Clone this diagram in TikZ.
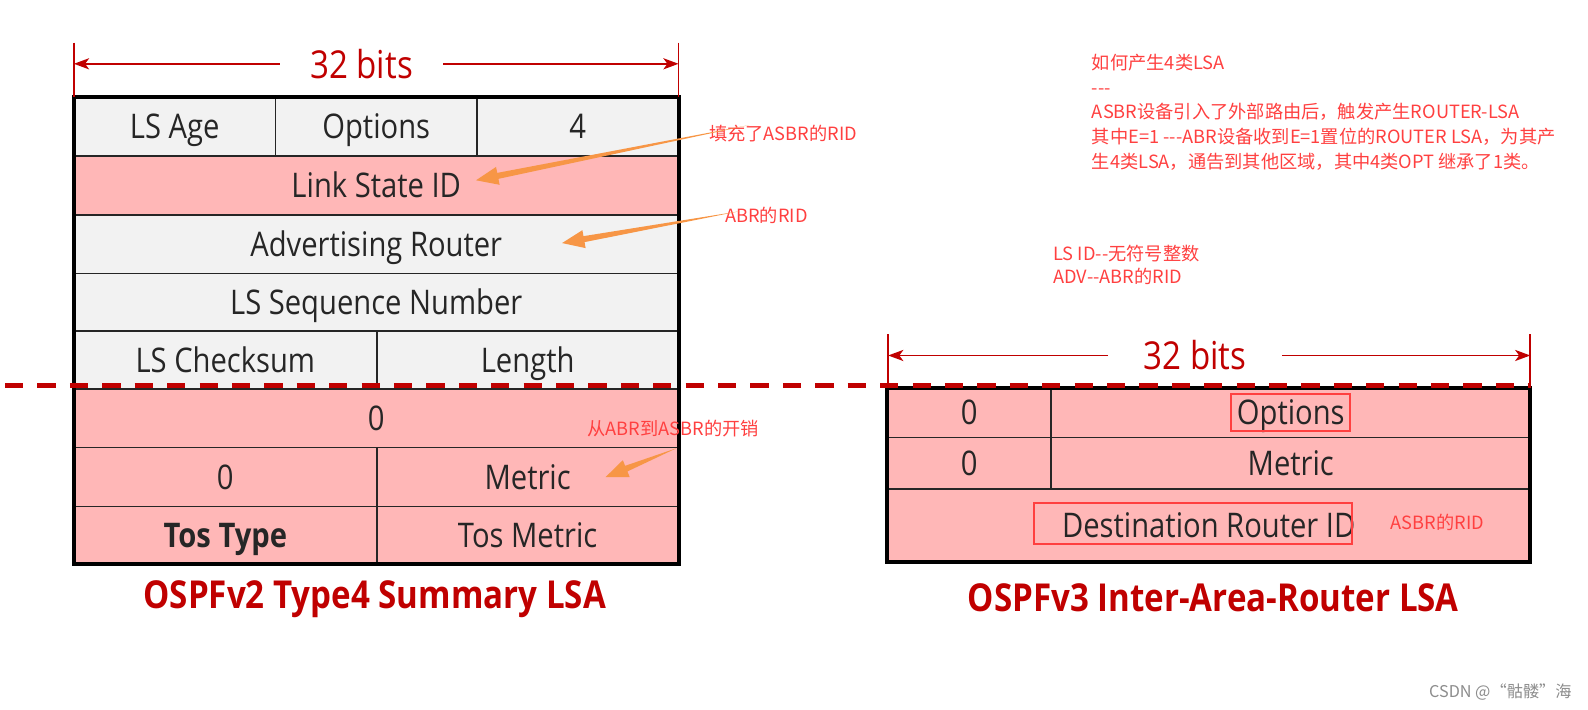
\documentclass[tikz,border=0pt]{standalone}
\usepackage{fontspec}
\setmainfont{Open Sans}
\newfontfamily\cellfont[FakeStretch=0.86]{Open Sans}
\newfontfamily\cjkfont{Noto Sans CJK SC}
\definecolor{RougeTitre}{HTML}{C00000}
\definecolor{RougeNote}{HTML}{FF4040}
\definecolor{GrisCase}{HTML}{F2F2F2}
\definecolor{RoseCase}{HTML}{FFB7B7}
\definecolor{OrangeFleche}{HTML}{F79646}
\usetikzlibrary{arrows.meta}
\usetikzlibrary{calc}
\usetikzlibrary{positioning}
\tikzset{
	cell/.style={draw=black!85, line width=1.6pt, inner sep=0pt, text=black!85,
		text height=24pt, text depth=0pt, font=\cellfont\fontsize{33.5}{36}\selectfont},
	graycell/.style={cell, fill=GrisCase},
	pinkcell/.style={cell, fill=RoseCase},
	note/.style={text=RougeNote, inner sep=0pt, font=\cjkfont\fontsize{18}{20}\selectfont},
	dimtick/.style={RougeTitre, line width=1.6pt},
	dimarrow/.style={RougeTitre, line width=1.6pt, -{Stealth[length=15pt,width=11pt,inset=4pt]}},
	bits/.style={text=RougeTitre, inner xsep=30pt, inner ysep=0pt,
		font=\cellfont\fontsize{38}{40}\selectfont},
	lsatitle/.style={text=RougeTitre, inner sep=0pt, font=\cellfont\bfseries\fontsize{38}{40}\selectfont},
	hlbox/.style={draw=RougeNote, line width=2pt},
	sepline/.style={RougeTitre, line width=5pt, dash pattern=on 18pt off 14pt},
	annarrow/.style={fill=OrangeFleche}
}
% fleche effilee: de #1 (fin) vers #2 (pointe)
\newcommand\fleche[2]{%
	\path (#2) coordinate (tp) ($(#2)!22pt!(#1)$) coordinate (hb);
	\fill[annarrow] (#1) -- ($(hb)!3pt!90:(tp)$) -- ($(hb)!9pt!90:(tp)$) -- (tp)
		-- ($(hb)!9pt!-90:(tp)$) -- ($(hb)!3pt!-90:(tp)$) -- cycle;}
\begin{document}
\begin{tikzpicture}[x=1pt, y=-1pt]
	\useasboundingbox (0,0) rectangle (1568,701);
	% OSPFv2
	\node[graycell, minimum width=199pt, minimum height=58pt] (lsage) at (172.5,125) {LS Age};
	\node[graycell, minimum width=199pt, minimum height=58pt] (optv2) at (371.5,125) {Options};
	\node[graycell, minimum width=199pt, minimum height=58pt] (typev2) at (570.5,125) {4};
	\node[pinkcell, minimum width=597pt, minimum height=58pt] (lsid) at (371.5,183) {Link State ID};
	\node[graycell, minimum width=597pt, minimum height=58pt] (adv) at (371.5,241) {Advertising Router};
	\node[graycell, minimum width=597pt, minimum height=57pt] (seq) at (371.5,298.5) {LS Sequence Number};
	\node[graycell, minimum width=299pt, minimum height=57pt] (cksum) at (222.5,355.5) {LS Checksum};
	\node[graycell, minimum width=298pt, minimum height=57pt] (len) at (521,355.5) {Length};
	\node[pinkcell, minimum width=597pt, minimum height=58pt] (zerov2) at (371.5,413) {0};
	\node[pinkcell, minimum width=299pt, minimum height=58pt] (zerob) at (222.5,471) {0};
	\node[pinkcell, minimum width=298pt, minimum height=58pt] (metv2) at (521,471) {Metric};
	\node[pinkcell, minimum width=299pt, minimum height=57pt] (tostype) at (222.5,528.5) {\bfseries Tos Type};
	\node[pinkcell, minimum width=298pt, minimum height=57pt] (tosmet) at (521,528.5) {Tos Metric};
	\draw[line width=4pt] (73,96) rectangle (670,557);
	\node[lsatitle] (titlev2) at (370,592) {OSPFv2 Type4 Summary LSA};
	% 32 bits gauche
	\coordinate (tickla) at (73,42);
	\coordinate (ticklb) at (670,42);
	\draw[dimtick] (tickla) -- (73,96);
	\draw[dimtick] (ticklb) -- (670,96);
	\node[bits] (bitsv2) at (357,63) {32 bits};
	\draw[dimarrow] (bitsv2.west) -- (bitsv2.west -| tickla);
	\draw[dimarrow] (bitsv2.east) -- (bitsv2.east -| ticklb);
	% OSPFv3
	\node[pinkcell, minimum width=162pt, minimum height=49pt] (zerov3) at (957,407.5) {0};
	\node[pinkcell, minimum width=473pt, minimum height=49pt] (optv3) at (1274.5,407.5) {Options};
	\node[pinkcell, minimum width=162pt, minimum height=51pt] (zeroc) at (957,457.5) {0};
	\node[pinkcell, minimum width=473pt, minimum height=51pt] (metv3) at (1274.5,457.5) {Metric};
	\node[pinkcell, minimum width=635pt, minimum height=72pt] (dstid) at (1193.5,519) {Destination Router ID};
	\draw[line width=4pt] (876,383) rectangle (1511,555);
	\draw[hlbox] (1215,389) rectangle (1333,426);
	\draw[hlbox] (1021,497) rectangle (1335,537);
	\node[lsatitle] (titlev3) at (1198,590) {OSPFv3 Inter-Area-Router LSA};
	% 32 bits droite
	\coordinate (tickra) at (877,330);
	\coordinate (tickrb) at (1511,330);
	\draw[dimtick] (tickra) -- (877,383);
	\draw[dimtick] (tickrb) -- (1511,383);
	\node[bits, inner xsep=35pt] (bitsv3) at (1180,351) {32 bits};
	\draw[dimarrow] (bitsv3.west) -- (bitsv3.west -| tickra);
	\draw[dimarrow] (bitsv3.east) -- (bitsv3.east -| tickrb);
	% separation
	\draw[sepline] (5,381) -- (1510,381);
	% notes
	\node[note, anchor=west] (nasbr) at (700,132) {填充了ASBR的RID};
	\node[note, anchor=west] (nabr) at (716,213) {ABR的RID};
	\node[note, anchor=west] (ncout) at (580,423) {从ABR到ASBR的开销};
	\node[note, anchor=west] (ndst) at (1373,516) {ASBR的RID};
	\node[note, anchor=north west, align=left, font=\cjkfont\fontsize{18}{24.5}\selectfont] (ntype4) at (1078,53)
		{如何产生4类LSA\\---\\ASBR设备引入了外部路由后，触发产生ROUTER-LSA\\其中E=1 ---ABR设备收到E=1置位的ROUTER LSA，为其产\\生4类LSA，通告到其他区域，其中4类OPT 继承了1类。};
	\node[note, anchor=north west, align=left, font=\cjkfont\fontsize{18}{23}\selectfont] (nlsid) at (1040,242)
		{LS ID--无符号整数\\ADV--ABR的RID};
	\coordinate (tipid) at (470,178);
	\coordinate (tipadv) at (555,240);
	\coordinate (tipmet) at (598,471);
	\fleche{$(nasbr.north west)+(40,0)$}{tipid}
	\fleche{$(nabr.north west)+(14,4)$}{tipadv}
	\fleche{$(ncout.south west)+(88,11)$}{tipmet}
	\node[anchor=east, text=black!45, inner sep=0pt, font=\cjkfont\fontsize{16}{18}\selectfont] (csdn) at (1552,683) {CSDN @“骷髅”海};
\end{tikzpicture}
\end{document}
